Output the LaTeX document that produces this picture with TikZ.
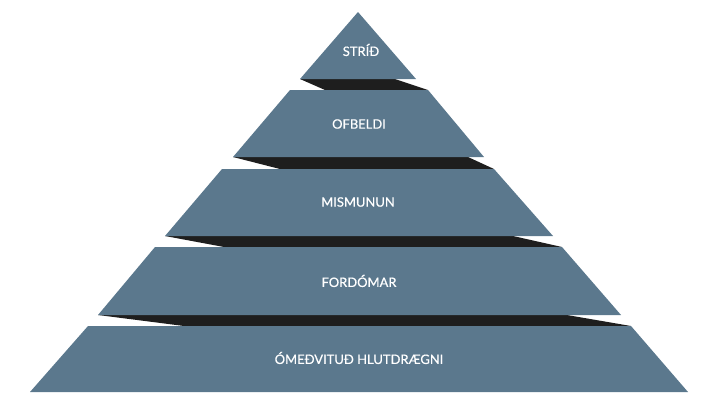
\documentclass[tikz,border=0pt]{standalone}
\usepackage{fontspec}
\setmainfont{Lato}
\newfontfamily\lblfont[FakeBold=0.6]{Lato}
\definecolor{layerblue}{RGB}{91,120,141}
\definecolor{shade}{RGB}{30,30,30}
\tikzset{
  layer/.style={fill=layerblue},
  underside/.style={fill=shade},
  lbl/.style={text=white, font=\lblfont\fontsize{13}{15}\selectfont, inner sep=0pt, anchor=center}
}
\begin{document}
\begin{tikzpicture}[x=1bp,y=-1bp]
\useasboundingbox (0,0) rectangle (720,405);
% undersides
\fill[underside] (300,79) -- (395,79) -- (428,90) -- (325,90) -- cycle;
\fill[underside] (233,157) -- (468,157) -- (494,169) -- (280,169) -- cycle;
\fill[underside] (165,236) -- (513,236) -- (562,247) -- (224,247) -- cycle;
\fill[underside] (98,315) -- (567,315) -- (631,326) -- (184,326) -- cycle;
% layers
\fill[layer] (358,12) -- (416,79) -- (300,79) -- cycle;
\fill[layer] (290,90) -- (428,90) -- (484,157) -- (233,157) -- cycle;
\fill[layer] (222,169) -- (494,169) -- (553,236) -- (165,236) -- cycle;
\fill[layer] (155,247) -- (562,247) -- (621,315) -- (98,315) -- cycle;
\fill[layer] (88,326) -- (631,326) -- (688,392) -- (30,392) -- cycle;
% labels
\node[lbl] (l1) at (361,50) {STRÍÐ};
\node[lbl] (l2) at (359,124) {OFBELDI};
\node[lbl] (l3) at (358,202) {MISMUNUN};
\node[lbl] (l4) at (359,281) {FORDÓMAR};
\node[lbl] (l5) at (359,358) {ÓMEÐVITUÐ HLUTDRÆGNI};
\end{tikzpicture}
\end{document}
